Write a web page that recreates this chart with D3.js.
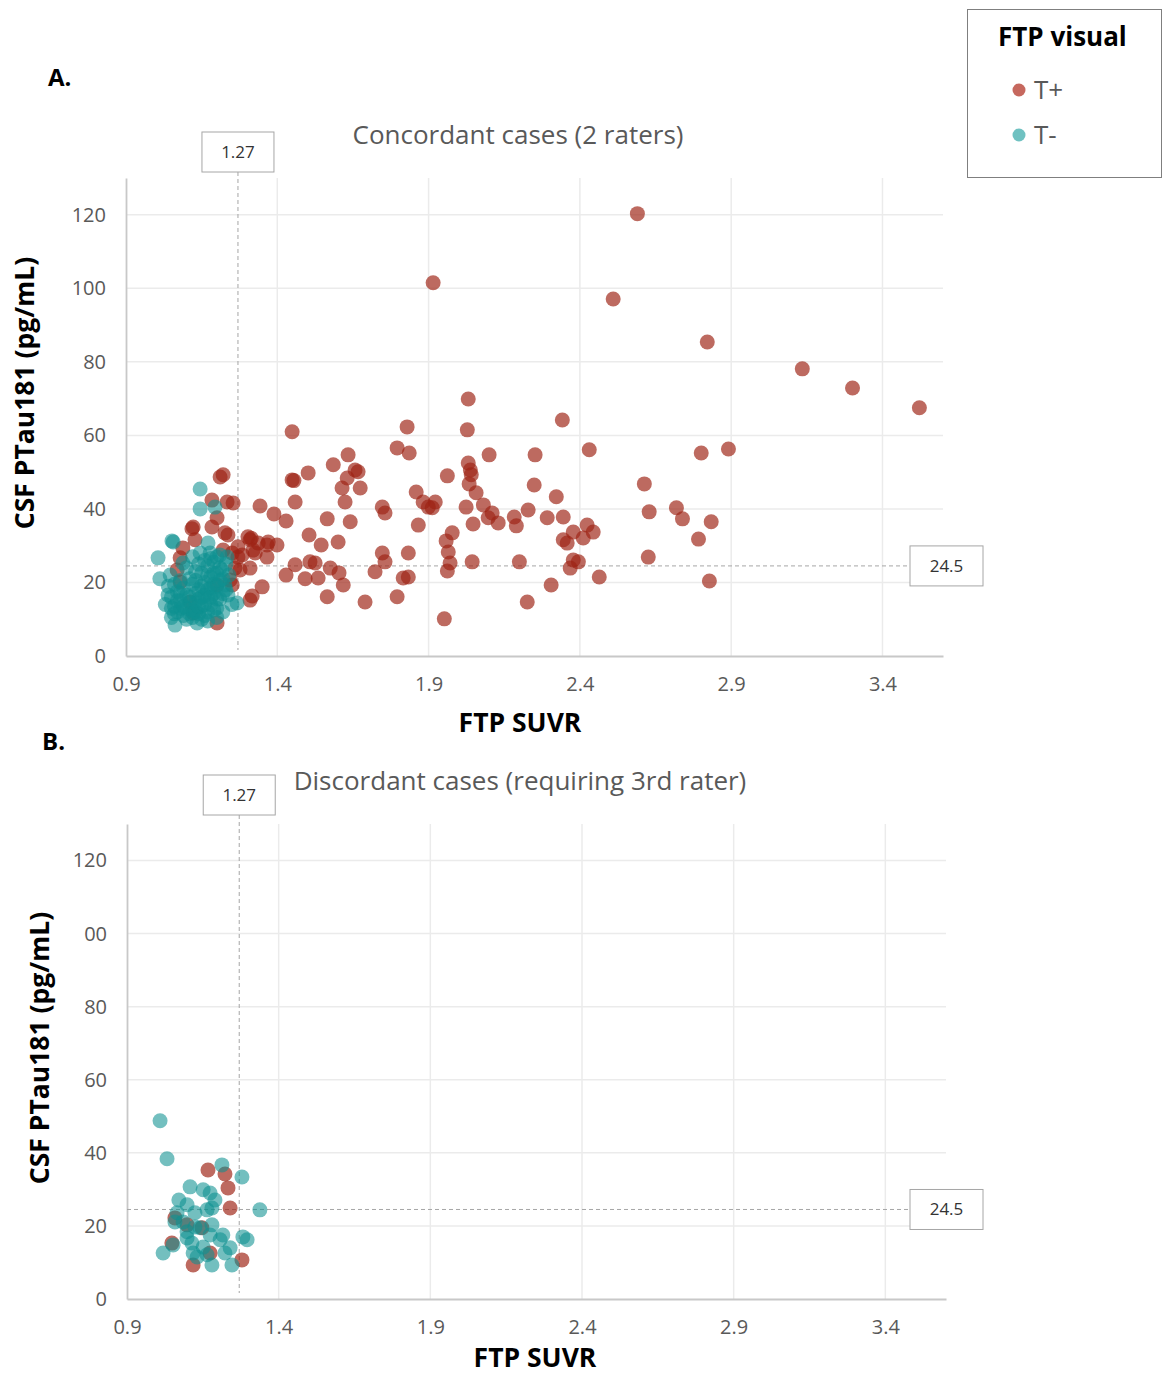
<!DOCTYPE html>
<html>
<head>
<meta charset="utf-8">
<script src="https://cdn.jsdelivr.net/npm/d3@7"></script>
<style>
  html, body { margin: 0; padding: 0; background: #fff; }
  svg { display: block; font-family: "Open Sans", "Noto Sans", sans-serif; }
</style>
</head>
<body>
<svg id="chart" width="1162" height="1374"></svg>
<script>
// FTP SUVR (x) vs CSF PTau181 pg/mL (y)
const xTicks = [0.9, 1.4, 1.9, 2.4, 2.9, 3.4];
const xTickLabels = ["0.9", "1.4", "1.9", "2.4", "2.9", "3.4"];
const yTicks = [0, 20, 40, 60, 80, 100, 120];
const yTickLabelsA = ["0", "20", "40", "60", "80", "100", "120"];
const yTickLabelsB = ["0", "20", "40", "60", "80", "00", "120"];
const suvrCutoff = 1.27;
const ptauCutoff = 24.5;
const legendItems = ["T+", "T-"];

// Concordant cases, visual read T+
const concordantTPos = [
  [2.590,120.3],[1.915,101.5],[2.510,97.1],[2.821,85.4],[3.135,78.1],[3.301,72.9],[3.522,67.5],
  [2.031,69.9],[2.342,64.2],[1.829,62.3],[1.449,61.0],[2.028,61.5],
  [1.634,54.7],[1.836,55.2],[1.796,56.6],[2.100,54.7],[2.252,54.7],[2.431,56.1],[2.801,55.2],[2.891,56.3],
  [1.585,52.0],[1.657,50.6],[1.667,50.1],[1.502,49.8],[2.031,52.5],[2.038,50.6],[2.041,49.3],
  [1.449,47.9],[1.455,47.7],[1.962,49.0],[2.613,46.8],[2.249,46.5],[2.034,46.8],
  [1.631,48.4],[1.614,45.7],[1.674,45.7],[1.859,44.6],[2.057,44.4],[2.322,43.3],
  [1.459,41.9],[1.624,41.9],[1.882,41.9],[1.922,41.9],[1.899,40.5],[1.912,40.3],[2.081,41.1],
  [1.747,40.5],[1.756,38.9],[2.024,40.5],[2.229,39.7],[2.629,39.2],[2.719,40.3],
  [2.110,38.9],[2.097,37.6],[2.130,36.2],[2.047,35.9],[2.183,37.8],[2.190,35.4],
  [2.292,37.6],[2.345,37.8],[2.424,35.6],[2.444,33.7],[2.378,33.7],[2.411,32.1],[2.345,31.6],[2.358,30.7],
  [2.739,37.3],[2.834,36.5],[2.792,31.8],[2.626,26.9],
  [1.866,35.6],[1.565,37.3],[1.641,36.5],[1.505,32.9],[1.601,31.0],[1.545,30.2],
  [1.978,33.5],[1.958,31.3],[1.965,28.3],[1.971,25.3],[1.962,23.1],[2.044,25.6],[2.200,25.6],
  [2.378,26.1],[2.395,25.6],[2.368,23.9],
  [1.747,28.0],[1.756,25.6],[1.833,28.0],[1.723,22.9],[1.816,21.2],[1.833,21.5],
  [1.508,25.6],[1.525,25.3],[1.575,23.9],[1.604,22.6],[1.535,21.2],[1.492,21.0],[1.618,19.3],
  [1.565,16.1],[1.690,14.7],[1.796,16.1],[1.952,10.1],[2.305,19.3],[2.226,14.7],[2.464,21.5],[2.828,20.4],
  [1.303,32.4],[1.310,31.6],[1.314,32.0],[1.337,30.7],[1.370,31.0],[1.399,30.2],[1.327,28.0],[1.366,26.9],
  [1.459,24.8],[1.429,22.0],[1.350,18.8],[1.310,15.2],[1.317,16.3],[1.343,40.8],[1.389,38.6],[1.429,36.7],
  [1.211,48.7],[1.221,49.3],[1.184,42.4],[1.234,41.9],[1.254,41.6],[1.201,37.6],
  [1.122,35.1],[1.118,34.6],[1.184,35.1],[1.227,33.5],[1.237,32.9],[1.128,31.6],
  [1.270,29.7],[1.088,29.4],[1.221,28.8],[1.251,28.0],[1.284,27.5],[1.320,28.8],[1.366,30.2],
  [1.270,26.9],[1.260,23.9],[1.277,23.4],[1.310,23.9],[1.079,26.7],[1.069,23.4],
  [1.244,20.7],[1.251,19.3],[1.201,19.3],[1.201,9.0],[1.112,14.7],[1.122,11.7],[1.079,20.1]
];

// Concordant cases, visual read T-
const concordantTNeg = [
  [1.145,45.4],[1.145,40.0],[1.194,40.5],[1.052,31.3],[1.056,31.0],[1.006,26.7],[1.012,21.0],
  [1.171,30.7],[1.088,25.3],[1.046,22.0],[1.039,16.6],[1.062,8.4],[1.135,9.0],[1.267,14.4],
  [1.237,16.6],[1.227,19.3],[1.217,23.4],[1.200,26.9],[1.234,26.9],[1.178,28.0],[1.145,28.0],
  [1.05,16.0],[1.06,13.5],[1.07,12.0],[1.08,15.0],[1.09,11.0],[1.10,13.0],[1.11,16.0],[1.12,12.5],
  [1.13,14.5],[1.14,11.5],[1.15,13.5],[1.16,16.5],[1.17,12.0],[1.18,14.0],[1.19,17.0],[1.20,13.0],
  [1.21,15.5],[1.22,12.0],[1.07,17.5],[1.09,18.5],[1.12,19.5],[1.14,18.0],[1.16,20.0],[1.18,21.5],
  [1.20,19.0],[1.22,21.0],[1.15,22.5],[1.17,24.5],[1.19,25.5],[1.13,23.0],[1.11,21.0],[1.10,24.0],
  [1.16,26.0],[1.21,24.0],[1.23,18.0],[1.24,22.0],[1.08,20.5],[1.06,19.5],[1.12,27.0],[1.18,18.5],
  [1.14,15.5],[1.10,10.0],[1.17,9.5],[1.20,10.5],[1.05,10.5],[1.13,17.0],[1.15,19.0],[1.19,22.5],
  [1.11,14.5],[1.17,16.0],[1.08,13.0],[1.12,10.5],[1.21,27.5],[1.23,25.0],[1.25,14.0],[1.16,11.0],
  [1.03,14.0],[1.04,19.0],
  [1.06,11.5],[1.07,15.0],[1.09,13.5],[1.10,16.5],[1.11,11.5],[1.13,12.0],[1.14,13.5],[1.15,16.0],
  [1.16,14.0],[1.17,18.0],[1.18,16.0],[1.19,12.5],[1.19,19.5],[1.20,15.5],[1.21,20.5],[1.22,17.0],
  [1.15,10.0],[1.13,20.5],[1.17,22.0],[1.18,26.5],[1.20,22.5],[1.14,25.0],[1.08,17.0],[1.05,13.0]
];

// Discordant cases (3rd rater), final read T+
const discordantTPos = [
  [1.167,35.3],[1.223,34.2],[1.233,30.4],[1.240,24.9],[1.058,22.2],[1.098,20.3],
  [1.048,15.3],[1.279,10.7],[1.118,9.3],[1.174,12.6],[1.147,19.5]
];

// Discordant cases (3rd rater), final read T-
const discordantTNeg = [
  [1.009,48.8],[1.032,38.4],[1.213,36.7],[1.279,33.4],[1.338,24.4],
  [1.108,30.7],[1.151,29.9],[1.174,29.0],[1.190,27.1],[1.071,27.1],[1.098,25.8],
  [1.164,24.4],[1.180,24.9],[1.065,23.6],[1.124,23.6],[1.058,21.1],[1.180,20.3],
  [1.141,19.5],[1.098,18.4],[1.216,17.5],[1.174,17.5],[1.282,17.0],[1.296,16.2],
  [1.098,16.7],[1.114,15.3],[1.207,16.2],[1.052,14.8],[1.019,12.6],[1.240,14.0],
  [1.118,12.6],[1.164,12.1],[1.223,12.6],[1.131,11.5],[1.180,9.3],[1.246,9.3],
  [1.085,21.1],[1.124,19.7],[1.151,14.2]
];

const colorPos = "#9e2414";
const colorNeg = "#0e9090";
const textGray = "#595959";

const svg = d3.select("#chart");

const panels = [
  { letter: "A.", letterX: 48, letterY: 86,
    title: "Concordant cases (2 raters)", titleX: 518, titleY: 144,
    left: 126, right: 943, top: 178, bottom: 656,
    yLabels: yTickLabelsA, yTitleX: 25, yTitleY: 393,
    xTitleX: 520, xTitleY: 732,
    vBox: { y: 132 }, hBox: { x: 910 },
    pos: concordantTPos, neg: concordantTNeg },
  { letter: "B.", letterX: 42, letterY: 750,
    title: "Discordant cases (requiring 3rd rater)", titleX: 520, titleY: 790,
    left: 127, right: 946, top: 824, bottom: 1299,
    yLabels: yTickLabelsB, yTitleX: 40, yTitleY: 1048,
    xTitleX: 535, xTitleY: 1367,
    vBox: { y: 775 }, hBox: { x: 910 },
    pos: discordantTPos, neg: discordantTNeg }
];

panels.forEach(p => {
  const x = d3.scaleLinear().domain([0.9, 3.6]).range([p.left, p.right]);
  const y = d3.scaleLinear().domain([0, 130]).range([p.bottom, p.top]);
  const g = svg.append("g");

  // gridlines
  g.append("g").selectAll("line").data(yTicks.filter(v => v > 0)).join("line")
    .attr("x1", p.left).attr("x2", p.right)
    .attr("y1", d => y(d)).attr("y2", d => y(d))
    .attr("stroke", "#ebebeb").attr("stroke-width", 1.5);
  g.append("g").selectAll("line").data(xTicks.filter(v => v > 0.9)).join("line")
    .attr("x1", d => x(d)).attr("x2", d => x(d))
    .attr("y1", p.top).attr("y2", p.bottom)
    .attr("stroke", "#ebebeb").attr("stroke-width", 1.5);

  // axes
  const xAxis = d3.axisBottom(x).tickValues(xTicks)
    .tickFormat((d, i) => xTickLabels[i]).tickSize(0).tickPadding(21);
  const yAxis = d3.axisLeft(y).tickValues(yTicks)
    .tickFormat((d, i) => p.yLabels[i]).tickSize(0).tickPadding(20);
  const gx = g.append("g").attr("transform", `translate(0,${p.bottom})`).call(xAxis);
  const gy = g.append("g").attr("transform", `translate(${p.left},0)`).call(yAxis);
  [gx, gy].forEach(a => {
    a.select(".domain").attr("stroke", "#c8c8c8").attr("stroke-width", 1.8);
    a.selectAll("text").attr("fill", textGray).style("font-size", "20px")
      .style("font-family", "'Open Sans', sans-serif");
  });

  // cutoff reference lines
  const vx = x(suvrCutoff), hy = y(ptauCutoff);
  g.append("line").attr("x1", vx).attr("x2", vx)
    .attr("y1", p.vBox.y + 40).attr("y2", p.bottom - 6)
    .attr("stroke", "#a6a6a6").attr("stroke-width", 1).attr("stroke-dasharray", "4,3");
  g.append("line").attr("x1", p.left).attr("x2", p.hBox.x)
    .attr("y1", hy).attr("y2", hy)
    .attr("stroke", "#a6a6a6").attr("stroke-width", 1).attr("stroke-dasharray", "4,3");

  // cutoff label boxes
  g.append("rect").attr("x", vx - 36).attr("y", p.vBox.y).attr("width", 72).attr("height", 40)
    .attr("fill", "#fff").attr("stroke", "#a6a6a6").attr("stroke-width", 1);
  g.append("text").attr("x", vx).attr("y", p.vBox.y + 26).attr("text-anchor", "middle")
    .attr("fill", "#333").style("font-size", "17px").text(String(suvrCutoff));
  g.append("rect").attr("x", p.hBox.x).attr("y", hy - 20).attr("width", 73).attr("height", 40)
    .attr("fill", "#fff").attr("stroke", "#a6a6a6").attr("stroke-width", 1);
  g.append("text").attr("x", p.hBox.x + 36.5).attr("y", hy + 6).attr("text-anchor", "middle")
    .attr("fill", "#333").style("font-size", "17px").text(String(ptauCutoff));

  // points: T+ first, T- on top
  g.append("g").selectAll("circle").data(p.pos).join("circle")
    .attr("cx", d => x(d[0])).attr("cy", d => y(d[1])).attr("r", 7.5)
    .attr("fill", colorPos).attr("fill-opacity", 0.68);
  g.append("g").selectAll("circle").data(p.neg).join("circle")
    .attr("cx", d => x(d[0])).attr("cy", d => y(d[1])).attr("r", 7.5)
    .attr("fill", colorNeg).attr("fill-opacity", 0.58);

  // titles
  svg.append("text").attr("x", p.letterX).attr("y", p.letterY)
    .style("font-size", "24px").style("font-weight", "700").attr("fill", "#000").text(p.letter);
  svg.append("text").attr("x", p.titleX).attr("y", p.titleY).attr("text-anchor", "middle")
    .style("font-size", "26px").attr("fill", textGray).text(p.title);
  svg.append("text").attr("x", p.xTitleX).attr("y", p.xTitleY).attr("text-anchor", "middle")
    .style("font-size", "26.5px").style("font-weight", "700").attr("fill", "#000").text("FTP SUVR");
  svg.append("text")
    .attr("transform", `translate(${p.yTitleX + 9},${p.yTitleY}) rotate(-90)`)
    .attr("text-anchor", "middle")
    .style("font-size", "26.5px").style("font-weight", "700").attr("fill", "#000")
    .text("CSF PTau181 (pg/mL)");
});

// legend
const lg = svg.append("g");
lg.append("rect").attr("x", 967.5).attr("y", 9.5).attr("width", 194).attr("height", 168)
  .attr("fill", "#fff").attr("stroke", "#7f7f7f").attr("stroke-width", 1);
lg.append("text").attr("x", 998).attr("y", 46)
  .style("font-size", "26px").style("font-weight", "700").attr("fill", "#000").text("FTP visual");
const legendColors = ["#c6685e", "#6fc1c1"];
legendItems.forEach((lab, i) => {
  const cy = 90 + i * 45;
  lg.append("circle").attr("cx", 1019).attr("cy", cy).attr("r", 6.5).attr("fill", legendColors[i]);
  lg.append("text").attr("x", 1034).attr("y", cy + 9)
    .style("font-size", "26px").attr("fill", textGray).text(lab);
});
</script>
</body>
</html>
